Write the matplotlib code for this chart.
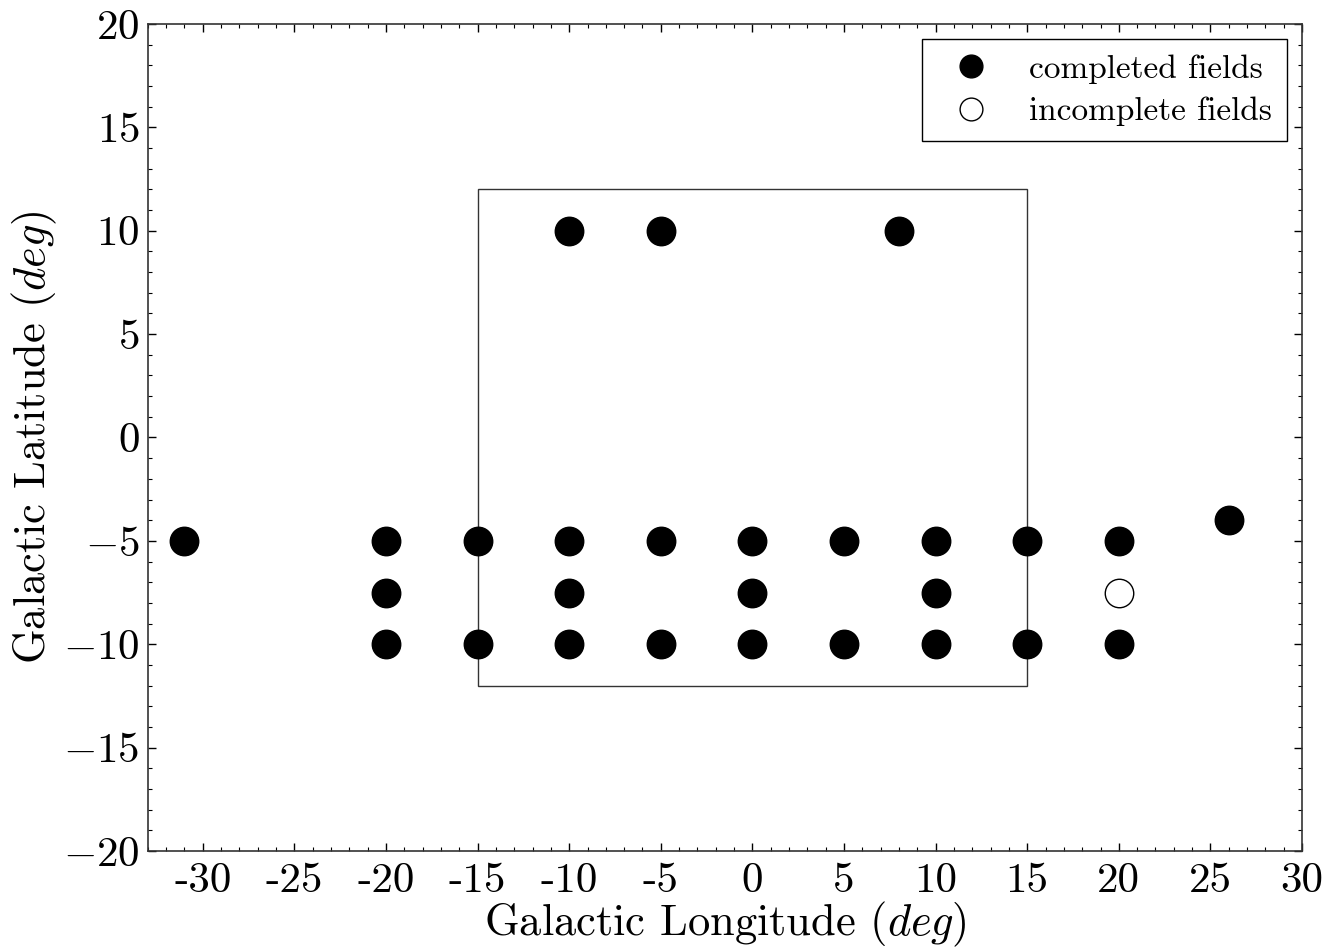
import matplotlib
matplotlib.use("Agg")
import matplotlib.pyplot as plt
from matplotlib.ticker import MultipleLocator, FuncFormatter
from matplotlib.patches import Rectangle

plt.rcParams['font.family'] = 'serif'
plt.rcParams['font.serif'] = ['cmr10']
plt.rcParams['mathtext.fontset'] = 'cm'
plt.rcParams['axes.formatter.use_mathtext'] = True
plt.rcParams['axes.unicode_minus'] = False

# completed fields (longitude, latitude)
done_l = [-10, -5, 8,
          -31, -20, -15, -10, -5, 0, 5, 10, 15, 20,
          -20, -10, 0, 10,
          -20, -15, -10, -5, 0, 5, 10, 15, 20,
          26]
done_b = [10, 10, 10,
          -5, -5, -5, -5, -5, -5, -5, -5, -5, -5,
          -7.5, -7.5, -7.5, -7.5,
          -10, -10, -10, -10, -10, -10, -10, -10, -10,
          -4]
# incomplete fields
inc_l = [20]
inc_b = [-7.5]

# region box
box_l = [-15, 15]
box_b = [-12, 12]

xticks = [-30, -25, -20, -15, -10, -5, 0, 5, 10, 15, 20, 25, 30]
xticklabels = [str(v) for v in xticks]
yticks = [-20, -15, -10, -5, 0, 5, 10, 15, 20]

fig = plt.figure(figsize=(13.32, 9.49), dpi=100)
ax = fig.add_axes([0.111, 0.1033, 0.8665, 0.8714])

ax.add_patch(Rectangle((box_l[0], box_b[0]), box_l[1] - box_l[0], box_b[1] - box_b[0],
                       fill=False, edgecolor='#333333', linewidth=1.0))

ax.plot(done_l, done_b, 'o', color='black', markersize=20.5, linestyle='none',
        label='completed fields')
ax.plot(inc_l, inc_b, 'o', markerfacecolor='white', markeredgecolor='black',
        markeredgewidth=1.0, markersize=20.5, linestyle='none', label='incomplete fields')

ax.set_xlim(-33, 30)
ax.set_ylim(-20, 20)
ax.set_xticks(xticks)
ax.set_xticklabels(xticklabels, fontsize=31)
ax.set_yticks(yticks)
ax.yaxis.set_major_formatter(FuncFormatter(lambda v, p: r'$%g$' % v))
ax.xaxis.set_minor_locator(MultipleLocator(1))
ax.yaxis.set_minor_locator(MultipleLocator(1))
ax.tick_params(axis='both', which='both', direction='in', top=True, right=True)
ax.tick_params(axis='both', which='major', length=6, width=1.0)
ax.tick_params(axis='both', which='minor', length=3, width=0.8)
ax.tick_params(axis='y', which='major', labelsize=31, pad=6)
ax.tick_params(axis='x', which='major', pad=8)
for s in ax.spines.values():
    s.set_linewidth(1.2)
    s.set_color('#333333')

ax.set_xlabel(r'Galactic Longitude $(deg)$', fontsize=32, labelpad=0)
ax.set_ylabel(r'Galactic Latitude $(deg)$', fontsize=32, labelpad=3)

leg = ax.legend(loc='upper right', numpoints=1, fontsize=24, fancybox=False,
                edgecolor='black', framealpha=1, markerscale=0.8,
                borderaxespad=0.45, handletextpad=0.75, labelspacing=0.4,
                borderpad=0.45)
leg.get_frame().set_linewidth(1.0)

fig.savefig('out.png', dpi=100)
